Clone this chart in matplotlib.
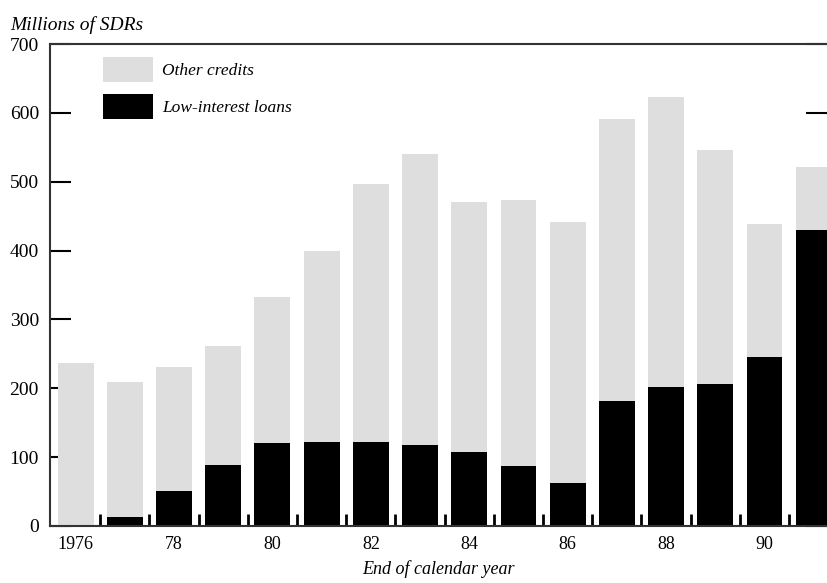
import matplotlib.pyplot as plt
from matplotlib.patches import Patch
import numpy as np

# End of calendar year
years = list(range(1976, 1992))
tick_labels = ["1976", "", "78", "", "80", "", "82", "", "84", "", "86", "", "88", "", "90", ""]

# Millions of SDRs
low_interest = [2, 13, 51, 89, 121, 122, 122, 118, 107, 87, 62, 182, 202, 206, 245, 430]
total = [236, 209, 231, 262, 332, 399, 496, 540, 471, 473, 441, 591, 623, 546, 439, 522]
other = [t - l for t, l in zip(total, low_interest)]

plt.rcParams['font.family'] = ['Liberation Serif', 'DejaVu Serif']

fig = plt.figure(figsize=(8.27, 5.83), dpi=100)
ax = fig.add_axes([0.0605, 0.0978, 0.9395, 0.8267])

x = np.arange(len(years))
width = 0.73
gray = '#dedede'
ax.bar(x, low_interest, width, color='black', zorder=2)
ax.bar(x, other, width, bottom=low_interest, color=gray, zorder=2)

ax.set_xlim(-0.52, 15.27)
ax.set_ylim(0, 700)
ax.set_axisbelow(True)

ax.set_yticks(range(0, 701, 100))
ax.tick_params(axis='y', direction='in', length=15, width=1.5, labelsize=14,
               right=True, color='black', pad=8)
ax.set_xticks(x)
ax.set_xticklabels(tick_labels)
ax.tick_params(axis='x', which='major', length=0, labelsize=13, pad=7)
ax.set_xticks(x[:-1] + 0.5, minor=True)
ax.tick_params(axis='x', which='minor', direction='in', length=9, width=2, color='black')

for side in ['left', 'bottom', 'top']:
    ax.spines[side].set_linewidth(1.5)
    ax.spines[side].set_color('#333333')
ax.spines['right'].set_visible(False)

handles = [Patch(facecolor=gray, label='Other credits'),
           Patch(facecolor='black', label='Low-interest loans')]
leg = ax.legend(handles=handles, loc='upper left', bbox_to_anchor=(0.048, 1.005),
                frameon=False, handlelength=2.9, handleheight=1.8,
                labelspacing=0.7, handletextpad=0.5,
                prop={'style': 'italic', 'size': 12.5})

fig.text(0.012, 0.948, 'Millions of SDRs', style='italic', fontsize=14)
ax.set_xlabel('End of calendar year', style='italic', fontsize=13, labelpad=5)

fig.savefig('out.png', dpi=100)
